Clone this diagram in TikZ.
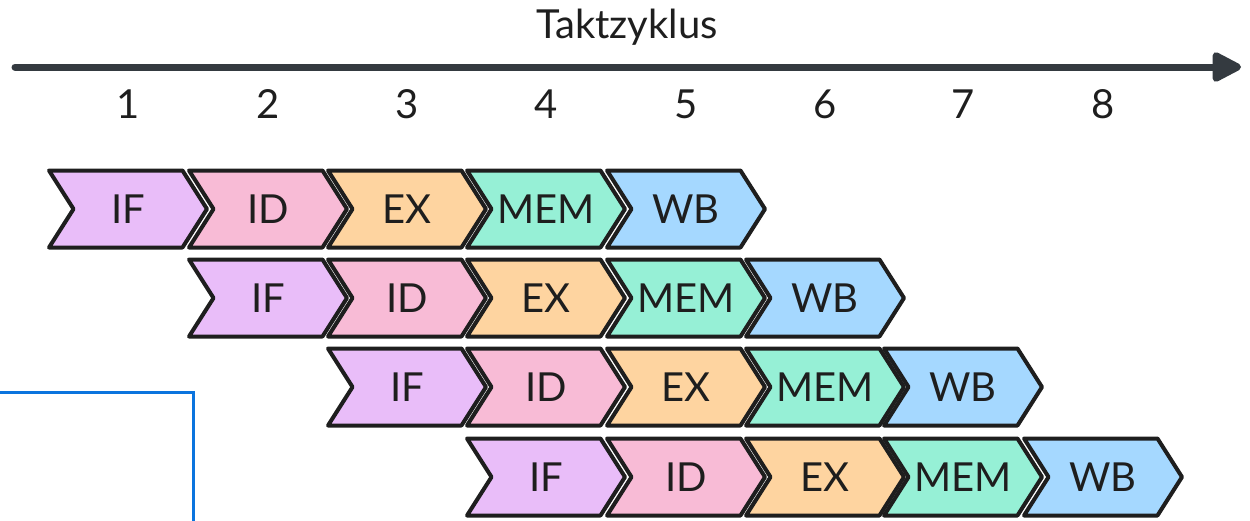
\documentclass[tikz,border=0pt]{standalone}
\usepackage{fontspec}
\setmainfont{Lato}
\usetikzlibrary{arrows.meta,shapes.symbols}

\definecolor{ink}{HTML}{1E1E1E}
\definecolor{axisgray}{HTML}{343A40}
\definecolor{cIF}{HTML}{E9BDF9}
\definecolor{cID}{HTML}{F8BBD6}
\definecolor{cEX}{HTML}{FED4A0}
\definecolor{cMEM}{HTML}{96F0D6}
\definecolor{cWB}{HTML}{A5D8FF}
\definecolor{frameblue}{HTML}{0B74DE}

\begin{document}
\begin{tikzpicture}[x=1pt,y=-1pt,every node/.style={font=\fontsize{40}{41}\selectfont,text=ink},
  stage/.style={shape=signal,signal from=west,signal to=east,signal pointer angle=115,
    draw=ink,line width=4pt,line join=round,inner sep=0pt,minimum width=158pt,minimum height=77pt},
  sIF/.style={stage,fill=cIF},
  sID/.style={stage,fill=cID},
  sEX/.style={stage,fill=cEX},
  sMEM/.style={stage,fill=cMEM},
  sWB/.style={stage,fill=cWB}]
\useasboundingbox (0,0) rectangle (1250,520);
% time axis
\coordinate (a0) at (15,67);
\coordinate (a1) at (1241,67);
\draw[axisgray,line width=7pt,line cap=round,-{Triangle[length=33pt,width=32pt,round]}] (a0)--(a1);
\node (title) at (627,27) {Taktzyklus};
\node (c1) at (128,104) {1};
\node (c2) at (268,104) {2};
\node (c3) at (407,104) {3};
\node (c4) at (546,104) {4};
\node (c5) at (686,104) {5};
\node (c6) at (825,104) {6};
\node (c7) at (963,104) {7};
\node (c8) at (1103,104) {8};
% instruction 1
\node[sIF] (r1if) at (128,209) {IF};
\node[sID] (r1id) at (268,209) {ID};
\node[sEX] (r1ex) at (407,209) {EX};
\node[sMEM] (r1mem) at (546,209) {MEM};
\node[sWB] (r1wb) at (686,209) {WB};
% instruction 2
\node[sIF] (r2if) at (268,298) {IF};
\node[sID] (r2id) at (407,298) {ID};
\node[sEX] (r2ex) at (546,298) {EX};
\node[sMEM] (r2mem) at (686,298) {MEM};
\node[sWB] (r2wb) at (825,298) {WB};
% instruction 3
\node[sIF] (r3if) at (407,387) {IF};
\node[sID] (r3id) at (546,387) {ID};
\node[sEX] (r3ex) at (686,387) {EX};
\node[sMEM] (r3mem) at (825,387) {MEM};
\node[sWB] (r3wb) at (963,387) {WB};
% instruction 4
\node[sIF] (r4if) at (546,477) {IF};
\node[sID] (r4id) at (686,477) {ID};
\node[sEX] (r4ex) at (825,477) {EX};
\node[sMEM] (r4mem) at (963,477) {MEM};
\node[sWB] (r4wb) at (1103,477) {WB};
% frame corner
\draw[frameblue,line width=3pt] (-5,392) -- (193,392) -- (193,525);
\end{tikzpicture}
\end{document}
